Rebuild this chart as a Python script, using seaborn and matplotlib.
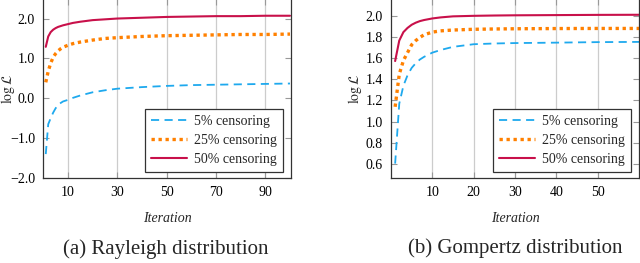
import numpy as np
import pandas as pd
import matplotlib
matplotlib.use("Agg")
import matplotlib.pyplot as plt
import seaborn as sns

# Rayleigh distribution (a)
iters_a = [1, 2, 3, 4, 5, 6, 7, 8, 10, 12, 15, 20, 25, 30, 40, 50, 60, 70, 80, 90, 100]
cens5_a = [-1.40, -0.65, -0.50, -0.36, -0.25, -0.17, -0.12, -0.08, -0.04, 0.01, 0.07,
           0.15, 0.20, 0.24, 0.28, 0.31, 0.33, 0.34, 0.35, 0.36, 0.37]
cens25_a = [0.40, 0.68, 0.88, 1.03, 1.12, 1.19, 1.24, 1.28, 1.33, 1.37, 1.41,
            1.46, 1.50, 1.52, 1.55, 1.57, 1.58, 1.59, 1.60, 1.60, 1.61]
cens50_a = [1.29, 1.55, 1.66, 1.72, 1.76, 1.79, 1.81, 1.83, 1.86, 1.89, 1.92,
            1.96, 1.98, 2.00, 2.02, 2.04, 2.05, 2.06, 2.06, 2.07, 2.07]

# Gompertz distribution (b)
iters_b = [1, 2, 3, 4, 5, 6, 7, 8, 10, 12, 15, 20, 25, 30, 40, 50, 60]
cens5_b = [0.60, 1.17, 1.34, 1.44, 1.51, 1.555, 1.59, 1.615, 1.655, 1.68, 1.71,
           1.735, 1.742, 1.746, 1.75, 1.755, 1.757]
cens25_b = [1.14, 1.45, 1.58, 1.655, 1.73, 1.77, 1.80, 1.825, 1.85, 1.862, 1.87,
            1.877, 1.88, 1.882, 1.884, 1.885, 1.885]
cens50_b = [1.575, 1.77, 1.85, 1.89, 1.92, 1.94, 1.955, 1.965, 1.98, 1.99, 2.00,
            2.005, 2.008, 2.01, 2.012, 2.014, 2.015]

labels = ["5% censoring", "25% censoring", "50% censoring"]
captions = ["(a) Rayleigh distribution", "(b) Gompertz distribution"]

sns.set_theme(style="white")
plt.rcParams["font.family"] = ["Liberation Serif", "DejaVu Serif"]
plt.rcParams["mathtext.fontset"] = "stix"
plt.rcParams["axes.unicode_minus"] = True

# 线型: 颜色, 线宽, 虚线样式
styles = [
    dict(color="#1ea9ee", lw=1.3, ls=(0, (4.5, 3.0)), cap="butt"),
    dict(color="#ff8000", lw=2.4, ls=(0, (1.0, 1.1)), cap="butt"),
    dict(color="#c8104a", lw=1.5, ls="-", cap="round"),
]

fig = plt.figure(figsize=(6.4, 2.63), dpi=100)
W, H = 640, 263
ax_a = fig.add_axes([43.3 / W, 85 / H, 247.7 / W, 179 / H])
ax_b = fig.add_axes([391 / W, 85 / H, 248 / W, 179 / H])

panels = [
    (ax_a, iters_a, [cens5_a, cens25_a, cens50_a], (0, 100.4), (-2.0, 2.49),
     [10, 30, 50, 70, 90], [-2, -1, 0, 1, 2]),
    (ax_b, iters_b, [cens5_b, cens25_b, cens50_b], (0, 60), (0.463, 2.165),
     [10, 20, 30, 40, 50], [0.6, 0.8, 1.0, 1.2, 1.4, 1.6, 1.8, 2.0]),
]

for ax, xs, series, xlim, ylim, xt, yt in panels:
    for vals, lab, st in zip(series, labels, styles):
        df = pd.DataFrame({"Iteration": xs, "val": vals})
        sns.lineplot(data=df, x="Iteration", y="val", ax=ax, color=st["color"],
                     lw=st["lw"], linestyle=st["ls"], label=lab)
        ax.lines[-1].set_dash_capstyle(st["cap"])
    ax.set_xlim(*xlim)
    ax.set_ylim(*ylim)
    ax.set_xticks(xt)
    ax.set_yticks(yt)
    ax.set_yticklabels([f"{v:.1f}".replace("-", "\u2212") for v in yt])
    ax.grid(True, axis="x", color="#cccccc", lw=0.9)
    ax.grid(False, axis="y")
    ax.set_axisbelow(True)
    ax.tick_params(axis="both", direction="in", length=4, width=0.8, color="#999999",
                   labelsize=10, labelcolor="black", pad=6, left=True, right=True,
                   bottom=True, top=True)
    for sp in ax.spines.values():
        sp.set_color("#333333")
        sp.set_linewidth(0.9)
    ax.set_xlabel("Iteration", fontstyle="italic", fontsize=10, labelpad=9)
    ax.set_ylabel(r"$\log\mathcal{L}$", fontsize=10)
    ax.yaxis.set_label_coords(-0.108, 0.5)
    leg = ax.legend(loc="lower right", bbox_to_anchor=(0.968, 0.034), borderaxespad=0,
                    fontsize=10, handlelength=2.6, handletextpad=0.5, labelspacing=0.42,
                    borderpad=0.45, fancybox=False, framealpha=1, edgecolor="#333333")
    leg.get_frame().set_linewidth(0.9)

fig.text(165.5 / W, 1 - 249 / H, captions[0], ha="center", va="center", fontsize=15)
fig.text(515 / W, 1 - 248 / H, captions[1], ha="center", va="center", fontsize=15)

fig.savefig("out.png", dpi=100)
